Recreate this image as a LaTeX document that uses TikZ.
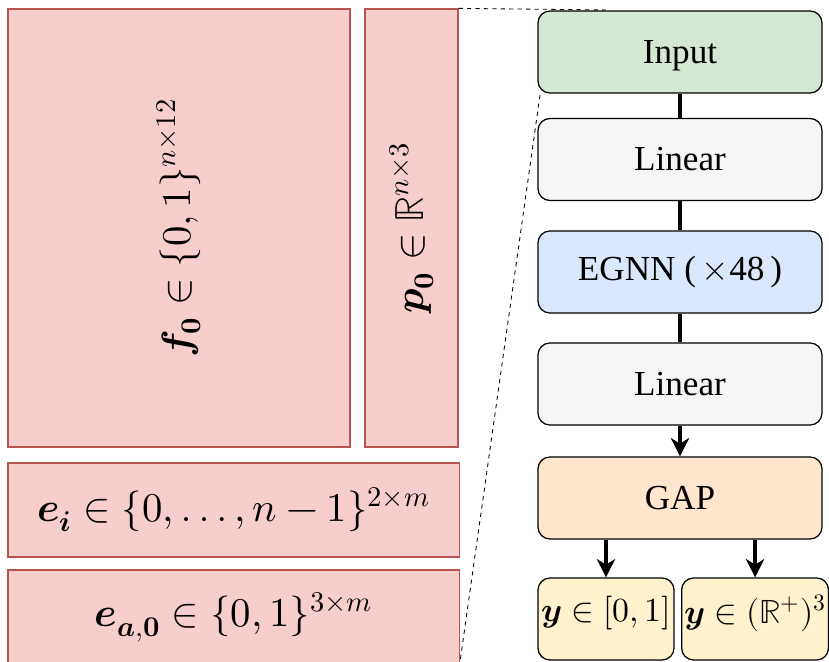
\documentclass[tikz,border=0pt]{standalone}
\usepackage{amsmath}
\usepackage{unicode-math}
\setmainfont{Liberation Serif}
\setmathfont{Latin Modern Math}
\usetikzlibrary{arrows.meta}

\definecolor{featfill}{HTML}{F8CECC}
\definecolor{featline}{HTML}{B85450}
\definecolor{inputfill}{HTML}{D5E8D4}
\definecolor{linfill}{HTML}{F5F5F5}
\definecolor{egnnfill}{HTML}{DAE8FC}
\definecolor{gapfill}{HTML}{FFE6CC}
\definecolor{outfill}{HTML}{FFF2CC}

\begin{document}
\begin{tikzpicture}[x=0.025cm,y=-0.025cm,
  feat/.style={draw=featline,fill=featfill,line width=0.8pt,inner sep=0pt,
    font=\fontsize{29}{34}\selectfont},
  layer/.style={draw=black,rounded corners=0.3cm,line width=0.9pt,
    minimum width=7.1cm,minimum height=2.05cm,inner sep=0pt,
    font=\fontsize{25}{30}\selectfont},
  outbox/.style={layer,minimum width=3.4cm,inner sep=2pt,
    font=\fontsize{24}{28}\selectfont},
  link/.style={line width=2.6pt},
  arr/.style={line width=2.6pt,-{Stealth[length=13pt,width=13pt,inset=4pt]}},
  zoomline/.style={dashed,line width=0.6pt}]

\clip (0,0) rectangle (829,662);

% Input features
\node[feat,rotate=90,minimum width=10.95cm,minimum height=8.55cm] (f0) at (179,228)
  {$\symbfit{f}_{\symbf{0}}\in\{0,1\}^{n\times 12}$};
\node[feat,rotate=90,minimum width=10.95cm,minimum height=2.325cm] (p0) at (411.5,228)
  {$\symbfit{p}_{\symbf{0}}\in\mathbb{R}^{n\times 3}$};
\node[feat,minimum width=11.275cm,minimum height=2.35cm] (ei) at (233.5,510)
  {$\symbfit{e}_{\symbfit{i}}\in\{0,\mathinner{\ldotp\ldotp\ldotp},n-1\}^{2\times m}$};
\node[feat,minimum width=11.275cm,minimum height=2.35cm] (ea0) at (233.5,617)
  {$\symbfit{e}_{\symbfit{a},\symbf{0}}\in\{0,1\}^{3\times m}$};

% Network
\node[layer,fill=inputfill,text depth=0pt] (input) at (680,52) {Input};
\node[layer,fill=linfill] (lin1) at (680,159.5) {Linear};
\node[layer,fill=egnnfill] (egnn) at (680,272) {EGNN (\,$\times$48\,)};
\node[layer,fill=linfill] (lin2) at (680,384) {Linear};
\node[layer,fill=gapfill] (gap) at (680,498) {GAP};

% Outputs
\node[outbox,fill=outfill,text depth=14pt] (yprob) at (606,619) {$\symbfit{y}\in[0,1]$};
\node[outbox,fill=outfill,text depth=14pt,anchor=west] (yreg) at (681,619) {$\symbfit{y}\in(\mathbb{R}^{+})^{3}$};

\draw[link] (input) -- (lin1);
\draw[link] (lin1) -- (egnn);
\draw[link] (egnn) -- (lin2);
\draw[arr] (lin2) -- (gap);
\draw[arr] (gap.south -| yprob.north) -- (yprob.north);
\draw[arr] (gap.south -| yreg.north) -- (yreg.north);

% Zoom lines (p0 is rotated, so its south east is the top right corner)
\coordinate (zoomtop) at (610,10);
\coordinate (zoomlow) at (540,95);
\draw[zoomline] (p0.south east) -- (zoomtop);
\draw[zoomline] (zoomlow) -- (ea0.south east);

\end{tikzpicture}
\end{document}
